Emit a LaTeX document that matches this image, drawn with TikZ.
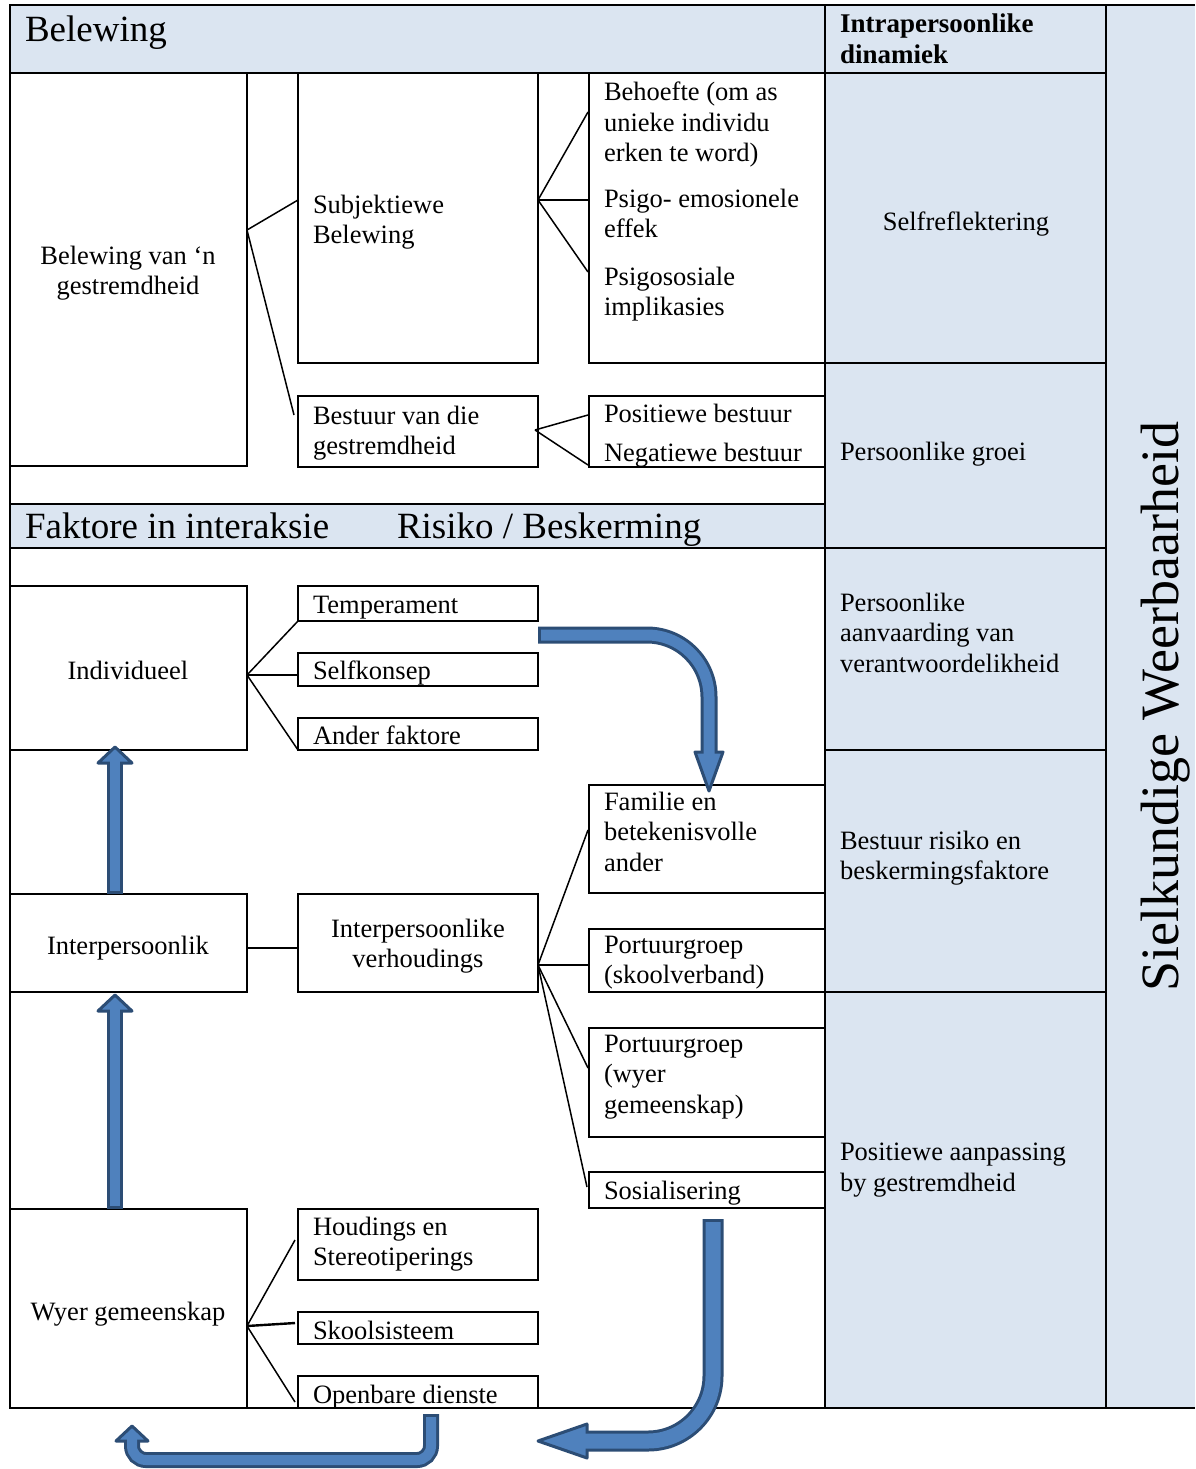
\documentclass[tikz,border=0pt]{standalone}
\usepackage{fontspec}
\setmainfont{Liberation Serif}
\usetikzlibrary{fit}
\definecolor{paleblue}{HTML}{DBE5F1}
\definecolor{arrowblue}{HTML}{4F81BD}
\definecolor{arrowedge}{HTML}{2C4D75}
\tikzset{
  frameline/.style={line width=2.4pt, black},
  boxst/.style={draw=black, line width=2.4pt, inner sep=0pt, outer sep=0pt},
  cell/.style={boxst, fill=paleblue},
  label/.style={anchor=north west, inner sep=0pt, outer sep=0pt, align=left,
    font=\fontsize{26.5}{30.5}\selectfont, execute at begin node=\strut},
  clabel/.style={label, anchor=north, align=center},
  biglabel/.style={anchor=north west, inner sep=0pt, outer sep=0pt, align=left,
    font=\fontsize{37}{42}\selectfont, execute at begin node=\strut},
  headlabel/.style={anchor=north west, inner sep=0pt, outer sep=0pt, align=left,
    font=\bfseries\fontsize{27}{31.5}\selectfont, execute at begin node=\strut},
  fanline/.style={line width=1.5pt, black},
  fanthick/.style={line width=2.4pt, black},
  arrowrim/.style={draw=arrowedge, line cap=butt},
  arrowcore/.style={draw=arrowblue, line cap=butt},
  arrowtip/.style={fill=arrowblue, draw=arrowedge, line width=3pt, line join=round},
}
\begin{document}
\begin{tikzpicture}[x=1pt, y=-1pt]
\useasboundingbox (0,0) rectangle (1195,1469);

% ---------- shaded bands and the right-hand column ----------
\fill[paleblue] (1106,5) rectangle (1195,1408);
\node[cell, fit={(10,5) (825,73)}] (bandtop) {};
\node[cell, fit={(10,504) (825,548)}] (bandmid) {};
\node[cell, fit={(825,5) (1106,73)}] (c0) {};
\node[cell, fit={(825,73) (1106,363)}] (c1) {};
\node[cell, fit={(825,363) (1106,548)}] (c2) {};
\node[cell, fit={(825,548) (1106,750)}] (c3) {};
\node[cell, fit={(825,750) (1106,992)}] (c4) {};
\node[cell, fit={(825,992) (1106,1408)}] (c5) {};

% outer frame
\draw[frameline] (10,5) -- (1195,5);
\draw[frameline] (10,1408) -- (1195,1408);
\draw[frameline] (10,5) -- (10,1408);
\draw[frameline] (1106,5) -- (1106,1408);

% ---------- Belewing ----------
\node[boxst, fit={(10,73) (247,466)}] (bel) {};
\node[boxst, fit={(298,73) (538,363)}] (subj) {};
\node[boxst, fit={(589,73) (825,363)}] (beh) {};
\node[boxst, fit={(298,396) (538,467)}] (best) {};
\node[boxst, fit={(589,396) (825,467)}] (posneg) {};

\node[biglabel] (hbel) at (25,12.6) {Belewing};
\node[headlabel] (hdin) at (840,13.5) {Intrapersoonlike\\dinamiek};
\node[clabel] (tbel) at (128,246) {Belewing van ‘n\\gestremdheid};
\node[label] (tsubj) at (313,195) {Subjektiewe\\Belewing};
\node[label] (tbeh) at (604,82) {Behoefte (om as\\unieke individu\\erken te word)};
\node[label] (tpsi) at (604,189) {Psigo- emosionele\\effek};
\node[label] (tpss) at (604,267) {Psigososiale\\implikasies};
\node[label] (tbest) at (313,406) {Bestuur van die\\gestremdheid};
\node[label] (tpos) at (604,401) {Positiewe bestuur};
\node[label] (tneg) at (604,440) {Negatiewe bestuur};
\node[clabel] (tself) at (966,209) {Selfreflektering};
\node[label] (tgroei) at (840,439) {Persoonlike groei};

\coordinate (j1) at (247,230);
\draw[fanline] (j1) -- (298,200);
\draw[fanline] (j1) -- (294,415);
\coordinate (j2) at (538,200);
\draw[fanline] (j2) -- (588,112);
\draw[fanthick] (j2) -- (588,200);
\draw[fanline] (j2) -- (588,272);
\coordinate (j3) at (535,430);
\draw[fanline] (j3) -- (588,415);
\draw[fanline] (j3) -- (588,465);

% ---------- Faktore in interaksie ----------
\node[biglabel] (hfak) at (25,509) {Faktore in interaksie};
\node[biglabel] (hris) at (397,509) {Risiko / Beskerming};

\node[boxst, fit={(10,586) (247,750)}] (indiv) {};
\node[boxst, fit={(298,586) (538,621)}] (temp) {};
\node[boxst, fit={(298,653) (538,686)}] (selfk) {};
\node[boxst, fit={(298,718) (538,750)}] (ander) {};
\node[clabel] (tindiv) at (128,658) {Individueel};
\node[label] (ttemp) at (313,592) {Temperament};
\node[label] (tselfk) at (313,658) {Selfkonsep};
\node[label] (tander) at (313,723) {Ander faktore};

\coordinate (j4) at (247,675);
\draw[fanline] (j4) -- (temp.south west);
\draw[fanthick] (j4) -- (298,675);
\draw[fanline] (j4) -- (ander.south west);

\node[boxst, fit={(10,894) (247,992)}] (inter) {};
\node[boxst, fit={(298,894) (538,992)}] (verh) {};
\node[clabel] (tinter) at (128,933) {Interpersoonlik};
\node[clabel] (tverh) at (418,919) {Interpersoonlike\\verhoudings};
\draw[fanthick] (inter.east |- 0,948) -- (verh.west |- 0,948);

\node[boxst, fit={(589,785) (825,893)}] (fam) {};
\node[boxst, fit={(589,929) (825,992)}] (portA) {};
\node[boxst, fit={(589,1028) (825,1137)}] (portB) {};
\node[boxst, fit={(589,1172) (825,1208)}] (sos) {};
\node[label] (tfam) at (604,792) {Familie en\\betekenisvolle\\ander};
\node[label] (tportA) at (604,936) {Portuurgroep\\(skoolverband)};
\node[label] (tportB) at (604,1035) {Portuurgroep\\(wyer\\gemeenskap)};
\node[label] (tsos) at (604,1178) {Sosialisering};

\coordinate (j5) at (538,965);
\draw[fanline] (j5) -- (588,830);
\draw[fanthick] (j5) -- (588,965);
\draw[fanline] (j5) -- (588,1068);
\draw[fanline] (j5) -- (587,1187);

\node[boxst, fit={(10,1209) (247,1408)}] (wyer) {};
\node[boxst, fit={(298,1209) (538,1280)}] (houd) {};
\node[boxst, fit={(298,1312) (538,1344)}] (skool) {};
\node[boxst, fit={(298,1376) (538,1408)}] (open) {};
\node[clabel] (twyer) at (128,1299) {Wyer gemeenskap};
\node[label] (thoud) at (313,1217) {Houdings en\\Stereotiperings};
\node[label] (tskool) at (313,1318) {Skoolsisteem};
\node[label] (topen) at (313,1382) {Openbare dienste};

\coordinate (j6) at (247,1326);
\draw[fanline] (j6) -- (295,1240);
\draw[fanthick] (j6) -- (295,1323);
\draw[fanline] (j6) -- (295,1402);

% ---------- right-hand column texts ----------
\node[label] (taanv) at (840,593) {Persoonlike\\aanvaarding van\\verantwoordelikheid};
\node[label] (trisk) at (840,831) {Bestuur risiko en\\beskermingsfaktore};
\node[label] (taanp) at (840,1143) {Positiewe aanpassing\\by gestremdheid};
\node[rotate=90, anchor=base, inner sep=0pt, font=\fontsize{54}{60}\selectfont] (sw) at (1178,707) {Sielkundige Weerbaarheid};

% ---------- block arrows ----------
% Individueel <- Interpersoonlik
\draw[arrowrim, line width=16pt] (115,894) -- (115,763);
\filldraw[arrowtip] (98,763) -- (132,763) -- (115,747) -- cycle;
\draw[arrowcore, line width=10pt] (115,891) -- (115,759);
% Interpersoonlik <- Wyer gemeenskap
\draw[arrowrim, line width=16pt] (115,1209) -- (115,1011);
\filldraw[arrowtip] (98,1011) -- (132,1011) -- (115,995) -- cycle;
\draw[arrowcore, line width=10pt] (115,1206) -- (115,1007);
% Temperament -> Familie
\draw[arrowrim, line width=17pt, rounded corners=62pt] (538,635) -- (709,635) -- (709,752);
\filldraw[arrowtip] (695,752) -- (723,752) -- (709,791) -- cycle;
\draw[arrowcore, line width=11pt, rounded corners=62pt] (541,635) -- (709,635) -- (709,757);
% Sosialisering -> bottom
\draw[arrowrim, line width=21pt, rounded corners=65pt] (713,1219) -- (713,1441) -- (587,1441);
\filldraw[arrowtip] (587,1424) -- (587,1458) -- (538,1441) -- cycle;
\draw[arrowcore, line width=15pt, rounded corners=65pt] (713,1222) -- (713,1441) -- (582,1441);
% Openbare dienste -> back to the left
\draw[arrowrim, line width=16pt, rounded corners=14pt] (431,1414) -- (431,1460) -- (132,1460) -- (132,1441);
\filldraw[arrowtip] (116,1441) -- (148,1441) -- (132,1426) -- cycle;
\draw[arrowcore, line width=10pt, rounded corners=14pt] (431,1417) -- (431,1460) -- (132,1460) -- (132,1437);
\end{tikzpicture}
\end{document}
